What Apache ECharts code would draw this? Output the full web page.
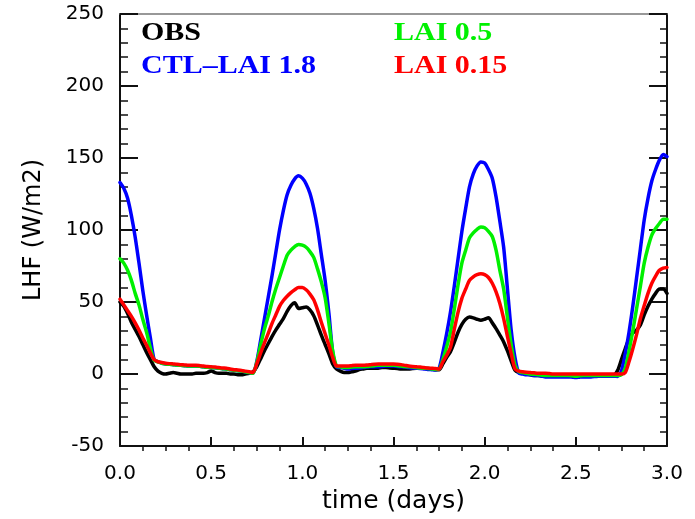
<!DOCTYPE html>
<html>
<head>
<meta charset="utf-8">
<script src="https://cdn.jsdelivr.net/npm/echarts@6/dist/echarts.min.js"></script>
<style>
  html, body { margin: 0; padding: 0; background: #fff; }
  #chart { width: 695px; height: 519px; }
</style>
</head>
<body>
<div id="chart"></div>
<script>
// Latent heat flux over three days, half-hourly samples (0 .. 72 h, 145 values)
const seriesNames = ['OBS', 'CTL–LAI 1.8', 'LAI 0.5', 'LAI 0.15'];
const seriesColors = ['#000000', '#0000ff', '#00f000', '#ff0000'];

const obs = [
  50, 47, 42, 36, 31, 26, 20.5, 15, 10, 5, 2, 0.5,
  0, 0.5, 1, 0.5, 0, 0, 0, 0, 0.5, 0.5, 0.5, 1,
  2, 1, 0.5, 0.5, 0.5, 0, 0, -0.5, -0.5, 0, 0.5, 1.5,
  5, 10.5, 16, 21, 26, 30.5, 34.5, 38.5, 43.5, 47.5, 49.5, 45.5,
  46, 46.5, 44.5, 40.5, 34, 27, 20.5, 14, 7, 3.5, 2, 1,
  1, 1.5, 2, 3, 3.5, 4, 4, 4, 4, 4.5, 4.5, 4.2,
  4, 3.8, 3.5, 3.5, 3.5, 3.8, 4, 4, 4, 3.8, 3.5, 3,
  3, 7, 11.5, 15.5, 22, 29, 34.5, 38, 39.5, 39, 38, 37.3,
  38, 39, 35.5, 31.5, 27, 22.3, 16, 9, 2.5, 1, 0.5, 0,
  -0.5, -1, -1, -1, -1.5, -1.2, -1, -1, -1, -1, -1, -1.2,
  -1.5, -1.2, -1, -1, -1, -1, -1, -0.8, -0.5, -0.5, -0.5, 2.5,
  10, 17.5, 24.5, 28.5, 30.5, 34, 41, 47, 52, 56, 59, 59,
  56
];

const ctlLai18 = [
  133, 129, 122, 110, 95, 77, 58, 41, 25, 10, 8.5, 7.5,
  7, 6.7, 6.5, 6.3, 6, 5.8, 5.5, 5.5, 5.5, 5.3, 5, 4.7,
  4.5, 4.3, 4, 3.7, 3.5, 3, 2.5, 2.3, 2, 1.5, 1, 0.5,
  8.5, 23, 38, 53, 68, 84, 100, 113.5, 124.5, 131, 135.5, 137.6,
  136, 132, 125.5, 115, 101, 83, 65, 42, 15, 5, 4.5, 4,
  3.5, 3.8, 4, 4.2, 4.5, 4.8, 5, 5, 5, 5.2, 5.5, 5.5,
  5.5, 5.2, 5, 4.8, 4.5, 4.2, 4, 3.8, 3.5, 3.2, 3, 2.8,
  4, 15, 28, 43, 61, 80, 99, 115, 130, 139, 144.5, 147.3,
  146.5, 142, 136, 123, 106, 88, 59, 30, 11, 0.5, 0, -0.5,
  -0.5, -1, -1, -1.5, -2, -2, -2, -2, -2, -2, -2, -2.2,
  -2.5, -2.2, -2, -2, -2, -1.8, -1.5, -1.5, -1.5, -1.5, -1.5, -1.7,
  2, 14, 29, 47, 67, 87, 107, 122, 134, 142, 148.5, 152.5,
  151
];

const lai05 = [
  80, 77, 72, 65, 56, 48, 38, 29, 18, 9.5, 8.5, 7.5,
  7, 6.7, 6.5, 6.3, 6, 5.8, 5.5, 5.5, 5.5, 5.3, 5, 4.7,
  4.5, 4.3, 4, 3.7, 3.5, 3, 2.5, 2.3, 2, 1.5, 1, 0.5,
  8, 20, 31, 40, 50, 59, 67, 75, 82.5, 86, 88.5, 90,
  89.5, 88, 85, 81, 73, 64, 53, 35, 16, 5.5, 5, 4.5,
  4.5, 4.8, 5, 5, 5, 5.2, 5.5, 5.8, 6, 6, 6, 6,
  6, 5.8, 5.5, 5.2, 5, 4.8, 4.5, 4.2, 4, 3.8, 3.5, 3.2,
  3.5, 10, 19, 29, 45, 62, 77, 86, 94.5, 98, 100.5, 102,
  101.5, 99, 95.5, 86, 72, 59, 39, 20, 6, 1.5, 1, 0.5,
  0, -0.2, -0.5, -0.8, -1, -1, -1, -1, -1, -1, -1, -1.2,
  -1.5, -1.2, -1, -1, -1, -1, -1, -1, -1, -1, -1, -1,
  -0.5, 4, 16, 30, 45.5, 61, 77, 88, 96.5, 101, 104.5, 107.5,
  107.5
];

const lai015 = [
  52, 48, 44, 40, 35.5, 30.5, 25, 20, 14.5, 10, 8.5, 8,
  7.5, 7.2, 7, 6.8, 6.5, 6.3, 6, 6, 6, 5.8, 5.5, 5.2,
  5, 4.8, 4.5, 4.2, 4, 3.5, 3, 2.8, 2.5, 2, 1.5, 1,
  7, 14.5, 21.5, 28, 35, 41, 47, 51, 54, 56.5, 58.5, 60,
  60, 58.5, 55.5, 51.5, 44.5, 36, 28, 20, 11.5, 5.5, 5.5, 5.5,
  5.5, 5.8, 6, 6, 6, 6.2, 6.5, 6.8, 7, 7, 7, 7,
  7, 6.8, 6.5, 6, 5.5, 5.2, 5, 4.8, 4.5, 4.2, 4, 3.8,
  3.5, 8.5, 13, 18.5, 31, 43, 52.5, 59, 65, 67.5, 69, 69.6,
  69, 67, 63, 57, 49, 38.5, 26, 14, 3.5, 2, 1.5, 1.2,
  1, 0.8, 0.5, 0.5, 0.5, 0.3, 0, 0, 0, 0, 0, 0,
  0, 0, 0, 0, 0, 0, 0, 0, 0, 0, 0, 0,
  0, 1, 8.5, 17.5, 27.5, 38.5, 47.5, 56, 63, 68, 72, 73.5,
  74
];

const seriesValues = [obs, ctlLai18, lai05, lai015];

// sample times in days (one sample every 30 minutes)
const timeDays = obs.map((_, i) => i / 48);

// minor ticks on the time axis (every 3 hours, between the half-day marks)
const minorTimeTicks = [0.125, 0.25, 0.375, 0.625, 0.75, 0.875,
  1.125, 1.25, 1.375, 1.625, 1.75, 1.875,
  2.125, 2.25, 2.375, 2.625, 2.75, 2.875];

const chart = echarts.init(document.getElementById('chart'), null, { renderer: 'canvas' });

const axisColor = '#111';
const sansFont = 'DejaVu Sans';

// legend entries: two columns of coloured bold labels
const legendSlots = [
  { x: 141, y: 33.5 },
  { x: 141, y: 67 },
  { x: 394, y: 33.5 },
  { x: 394, y: 67 }
];

const option = {
  animation: false,
  backgroundColor: '#ffffff',
  grid: { left: 120, right: 28, top: 14, bottom: 71 },
  xAxis: [
    {
      type: 'value', position: 'bottom', min: 0, max: 3, interval: 0.5,
      axisLine: { show: true, onZero: false, lineStyle: { color: axisColor, width: 2 } },
      axisTick: { show: true, inside: true, length: 9, lineStyle: { color: axisColor, width: 2 } },
      axisLabel: {
        formatter: v => v.toFixed(1), fontFamily: sansFont, fontSize: 20,
        color: '#000', margin: 18
      },
      splitLine: { show: false },
      name: 'time (days)', nameLocation: 'middle', nameGap: 43,
      nameTextStyle: { fontFamily: sansFont, fontSize: 25, color: '#000' }
    },
    {
      type: 'value', position: 'bottom', min: 0, max: 3,
      axisLine: { show: false, onZero: false },
      axisTick: { show: true, inside: false, length: 5, customValues: minorTimeTicks,
        lineStyle: { color: axisColor, width: 1.5 } },
      axisLabel: { show: false },
      splitLine: { show: false }
    },
    {
      type: 'value', position: 'top', min: 0, max: 3,
      axisLine: { show: true, onZero: false, lineStyle: { color: '#777', width: 1.5 } },
      axisTick: { show: false },
      axisLabel: { show: false },
      splitLine: { show: false }
    }
  ],
  yAxis: [
    {
      type: 'value', position: 'left', min: -50, max: 250, interval: 50,
      axisLine: { show: true, onZero: false, lineStyle: { color: axisColor, width: 2 } },
      axisTick: { show: true, inside: true, length: 18, lineStyle: { color: axisColor, width: 2 } },
      minorTick: { show: true, splitNumber: 5, length: 8, lineStyle: { color: axisColor, width: 1.5 } },
      axisLabel: { fontFamily: sansFont, fontSize: 20, color: '#000', margin: 16 },
      splitLine: { show: false },
      name: 'LHF (W/m2)', nameLocation: 'middle', nameGap: 74,
      nameTextStyle: { fontFamily: sansFont, fontSize: 24, color: '#000' }
    },
    {
      type: 'value', position: 'right', min: -50, max: 250, interval: 50,
      axisLine: { show: true, onZero: false, lineStyle: { color: axisColor, width: 2 } },
      axisTick: { show: true, inside: true, length: 18, lineStyle: { color: axisColor, width: 2 } },
      minorTick: { show: true, splitNumber: 5, length: 7, lineStyle: { color: axisColor, width: 1.5 } },
      axisLabel: { show: false },
      splitLine: { show: false }
    }
  ],
  series: seriesValues.map((vals, k) => ({
    name: seriesNames[k],
    type: 'line',
    xAxisIndex: 0,
    yAxisIndex: 0,
    data: timeDays.map((t, i) => [t, vals[i]]),
    showSymbol: false,
    smooth: 0.25,
    clip: true,
    lineStyle: { color: seriesColors[k], width: 3.5, join: 'round', cap: 'round' },
    itemStyle: { color: seriesColors[k] },
    z: 2 + k
  })),
  graphic: seriesNames.map((name, k) => ({
    type: 'text',
    x: legendSlots[k].x,
    y: legendSlots[k].y,
    scaleX: 1.2,
    style: {
      text: name,
      font: 'bold 25px "Liberation Serif"',
      fill: seriesColors[k],
      textAlign: 'left',
      textVerticalAlign: 'middle'
    },
    z: 10
  }))
};

chart.setOption(option);
</script>
</body>
</html>
